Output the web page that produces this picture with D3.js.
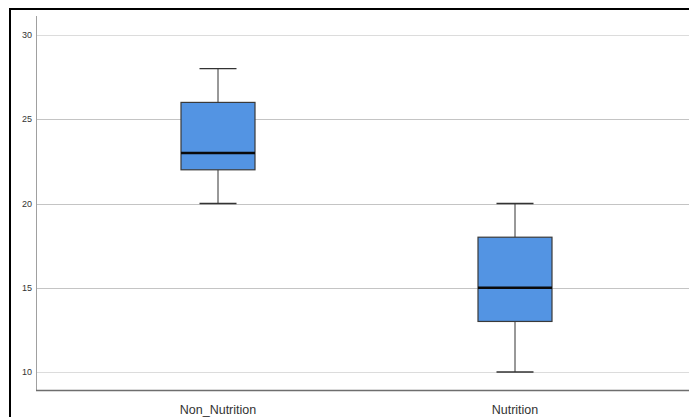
<!DOCTYPE html>
<html>
<head>
<meta charset="utf-8">
<script src="https://cdn.jsdelivr.net/npm/d3@7"></script>
<style>
  html, body { margin: 0; padding: 0; background: #fff; }
  svg { display: block; }
</style>
</head>
<body>
<div id="chart"></div>
<script>
// --- données ---
const groups = ["Non_Nutrition", "Nutrition"];
const mins = [20, 10];
const q1s = [22, 13];
const medians = [23, 15];
const q3s = [26, 18];
const maxs = [28, 20];
const yTicks = [10, 15, 20, 25, 30];

const width = 689;
const height = 417;

const svg = d3.select("#chart")
  .append("svg")
  .attr("width", width)
  .attr("height", height);

// cadre noir (haut + gauche)
svg.append("path")
  .attr("d", `M10,${height} V9 H${width}`)
  .attr("fill", "none")
  .attr("stroke", "#000")
  .attr("stroke-width", 2);

const axisX = 36;
const axisY = 390.5;

const y = d3.scaleLinear().domain([10, 30]).range([372, 35]);
const x = d3.scaleBand().domain(groups).range([69.5, 663.5]);

// --- grille ---
svg.append("g")
  .selectAll("line")
  .data(yTicks)
  .join("line")
  .attr("x1", axisX)
  .attr("x2", width)
  .attr("y1", d => Math.round(y(d)) + 0.5)
  .attr("y2", d => Math.round(y(d)) + 0.5)
  .attr("stroke", d => (d === 10 || d === 30) ? "#dcdcdc" : "#c4c4c4")
  .attr("stroke-width", 1.2);

// --- axes ---
svg.append("line")
  .attr("x1", axisX + 0.5).attr("x2", axisX + 0.5)
  .attr("y1", 16).attr("y2", axisY)
  .attr("stroke", "#a0a0a0");

svg.append("line")
  .attr("x1", axisX).attr("x2", width)
  .attr("y1", axisY).attr("y2", axisY)
  .attr("stroke", "#6e6e6e")
  .attr("stroke-width", 1.3);

svg.append("g")
  .selectAll("text")
  .data(yTicks)
  .join("text")
  .attr("x", 32)
  .attr("y", d => y(d))
  .attr("dy", "0.35em")
  .attr("text-anchor", "end")
  .style("font-family", "Liberation Sans, Arial, sans-serif")
  .style("font-size", "9px")
  .style("fill", "#333")
  .text(d => d);

svg.append("g")
  .selectAll("text")
  .data(groups)
  .join("text")
  .attr("x", d => x(d) + x.bandwidth() / 2)
  .attr("y", 413.5)
  .attr("text-anchor", "middle")
  .style("font-family", "Liberation Sans, Arial, sans-serif")
  .style("font-size", "12.5px")
  .style("fill", "#333")
  .text(d => d);

// --- boîtes ---
const boxW = 74;
const capW = 37;

const boxes = svg.append("g")
  .selectAll("g")
  .data(groups)
  .join("g")
  .attr("transform", d => `translate(${x(d) + x.bandwidth() / 2},0)`);

// moustaches
boxes.append("line")
  .attr("x1", 0).attr("x2", 0)
  .attr("y1", (d, i) => y(maxs[i]))
  .attr("y2", (d, i) => y(q3s[i]))
  .attr("stroke", "#333");
boxes.append("line")
  .attr("x1", 0).attr("x2", 0)
  .attr("y1", (d, i) => y(q1s[i]))
  .attr("y2", (d, i) => y(mins[i]))
  .attr("stroke", "#333");
boxes.append("line")
  .attr("x1", -capW / 2).attr("x2", capW / 2)
  .attr("y1", (d, i) => y(maxs[i]))
  .attr("y2", (d, i) => y(maxs[i]))
  .attr("stroke", "#333")
  .attr("stroke-width", 1.3);
boxes.append("line")
  .attr("x1", -capW / 2).attr("x2", capW / 2)
  .attr("y1", (d, i) => y(mins[i]))
  .attr("y2", (d, i) => y(mins[i]))
  .attr("stroke", "#333")
  .attr("stroke-width", 1.3);

boxes.append("rect")
  .attr("x", -boxW / 2)
  .attr("width", boxW)
  .attr("y", (d, i) => y(q3s[i]))
  .attr("height", (d, i) => y(q1s[i]) - y(q3s[i]))
  .attr("fill", "#5394e3")
  .attr("stroke", "#3a3a3a")
  .attr("stroke-width", 1.2);

boxes.append("line")
  .attr("x1", -boxW / 2).attr("x2", boxW / 2)
  .attr("y1", (d, i) => y(medians[i]))
  .attr("y2", (d, i) => y(medians[i]))
  .attr("stroke", "#0a0a0a")
  .attr("stroke-width", 2.4);
</script>
</body>
</html>
